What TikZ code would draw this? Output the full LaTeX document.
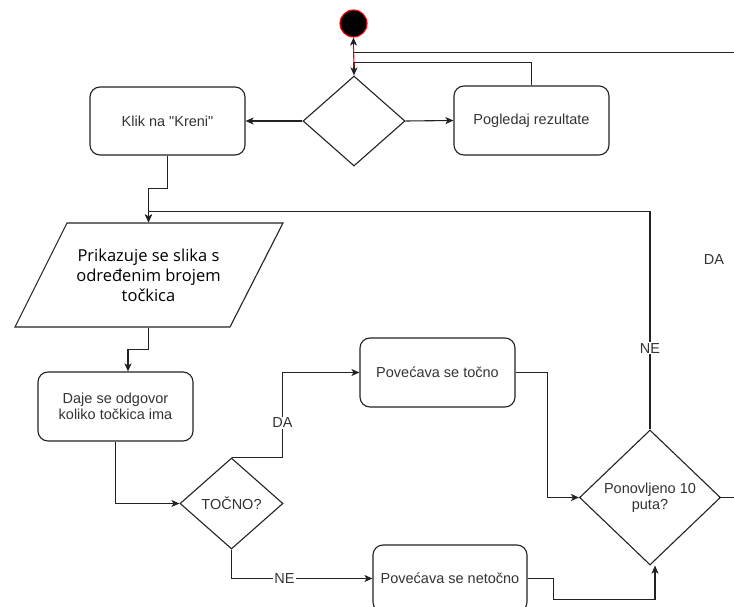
\documentclass[tikz,border=0pt]{standalone}
\usepackage{fontspec}
\setmainfont{Liberation Sans}
\newfontfamily\parfont{Open Sans}
\usetikzlibrary{arrows.meta,shapes.geometric,calc}
\definecolor{txt}{HTML}{333333}
\definecolor{ln}{HTML}{222222}
\begin{document}
\begin{tikzpicture}[x=1pt,y=-1pt,line width=1.1pt,
  every node/.style={text=txt,font=\fontsize{14.5}{15.5}\selectfont},
  box/.style={draw=ln,rounded corners=10pt,minimum width=155pt,minimum height=69pt,align=center,inner sep=0pt},
  dia/.style={draw=ln,diamond,inner sep=0pt},
  arr/.style={draw=ln,-{Stealth[length=8pt,width=7pt,inset=2pt]}},
  lab/.style={fill=white,inner sep=1pt}]
\useasboundingbox (0,0) rectangle (734,607);
\clip (0,0) rectangle (734,607);
% nodes
\node[circle,fill=black,draw=red,minimum size=27pt,inner sep=0pt] (start) at (353.5,23.5) {};
\node[dia,minimum width=102pt,minimum height=90pt] (d1) at (354,121) {};
\node[box] (pog) at (531.5,120.5) {Pogledaj rezultate};
\node[box,minimum height=68pt] (klik) at (167.5,121) {Klik na \textquotedbl Kreni\textquotedbl};
\draw[ln] (67,223) -- (283,223) -- (230,327) -- (15,327) -- cycle;
\node[minimum width=160pt,minimum height=104pt,inner sep=0pt,align=center,text=black,
  font=\parfont\fontsize{16.5}{20}\selectfont] (par) at (148.5,275) {Prikazuje se slika s\\određenim brojem\\točkica};
\node[box] (daje) at (115.5,406.5) {Daje se odgovor\\koliko točkica ima};
\node[dia,minimum width=103pt,minimum height=91pt,label={center:TOČNO?}] (tocno) at (231.5,503.5) {};
\node[box] (pt) at (437.5,372.5) {Povećava se točno};
\node[box,minimum width=154pt,minimum height=67pt] (pn) at (450,578.5) {Povećava se netočno};
\node[dia,minimum width=141pt,minimum height=135pt,
  label={[align=center]center:Ponovljeno 10\\puta?}] (d2) at (650,497.5) {};
\node (da2) at (714,260) {DA};
\coordinate (rt) at (760,52.5);
% edges
\draw[arr] (d1.west) -- (klik.east);
\draw[arr] (d1.east) -- (pog.west);
\draw[arr] (pog.north) |- ($(d1.north)+(0,-13)$) -- (d1.north);
\draw[arr] (d2.east) -| (rt) -| (start.south);
\draw[arr] (klik.south) -- ++(0,33) -| (par.north);
\draw[arr] (d2.north) |- ($(par.north)+(0,-11)$) node[lab,pos=0.186] (ne1) {NE} -- (par.north);
\draw[arr] (par.south) -- ++(0,22) -| ($(daje.north)+(12.5,0)$);
\draw[arr] (daje.south) |- (tocno.west);
\draw[arr] (tocno.north) -- ++(51,0) |- (pt.west) node[lab,pos=0.203] (da1) {DA};
\draw[arr] (tocno.south) |- (pn.west) node[lab,pos=0.688] (ne2) {NE};
\draw[arr] (pt.east) -- ++(32,0) |- (d2.west);
\draw[arr] (pn.east) -- ++(26,0) -- ++(0,21) -| ($(d2.south)+(5,0)$);
\draw[red,line width=1.1pt] ([yshift=-9pt]start.south) -- ([yshift=9pt]d1.north);
\end{tikzpicture}
\end{document}
